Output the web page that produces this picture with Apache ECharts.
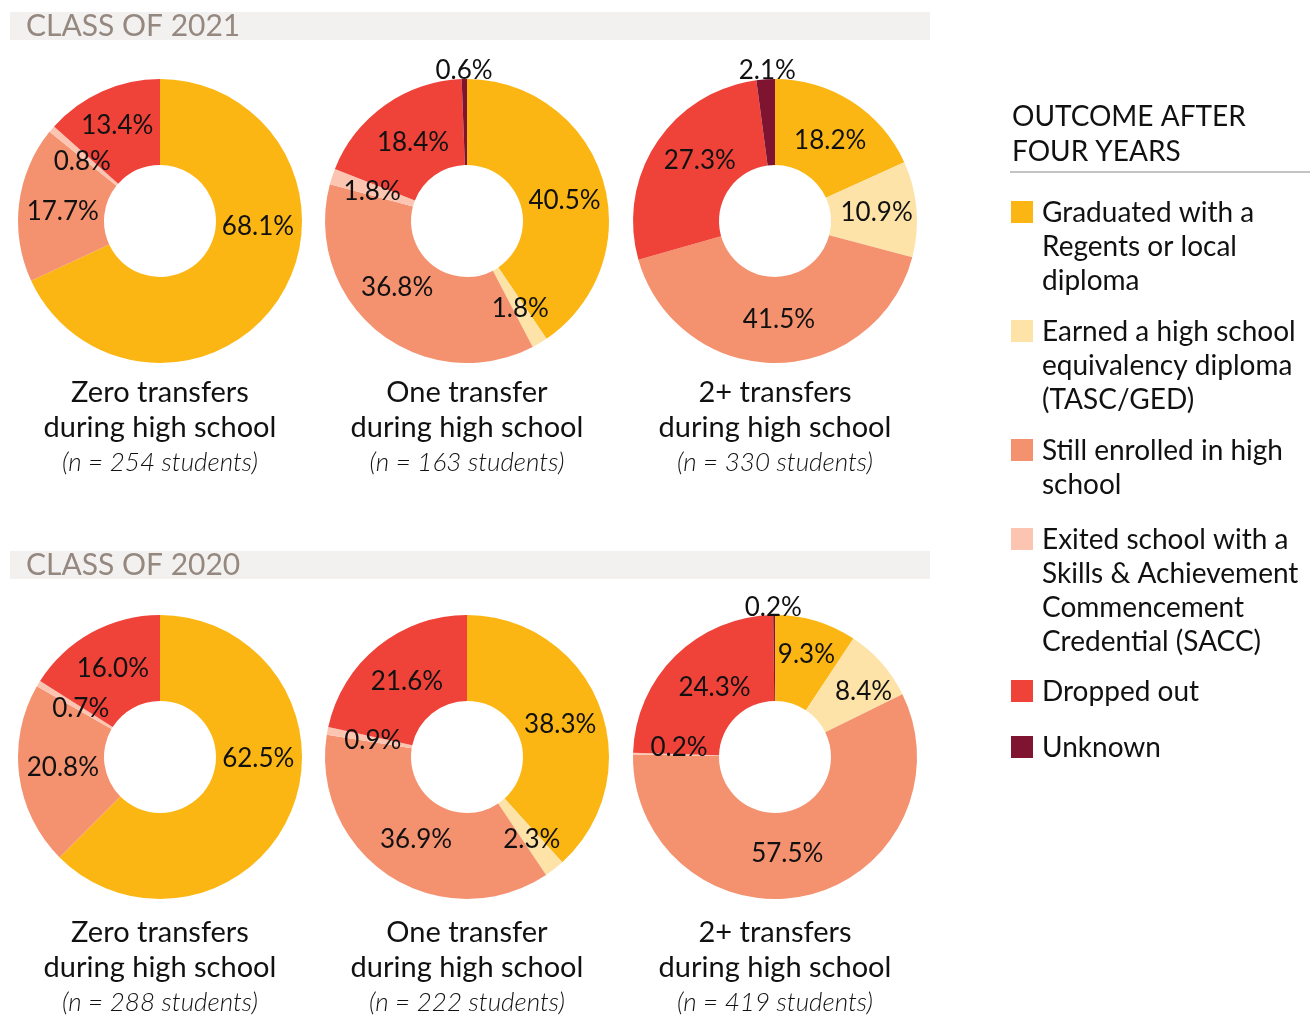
<!DOCTYPE html>
<html>
<head>
<meta charset="utf-8">
<script src="https://cdn.jsdelivr.net/npm/echarts@6/dist/echarts.min.js"></script>
<style>
  html, body { margin: 0; padding: 0; background: #fff; }
  #chart { width: 1315px; height: 1016px; }
</style>
</head>
<body>
<div id="chart"></div>
<script>
// outcome categories (order = clockwise from 12 o'clock)
const outcomes = ['Graduated', 'Equivalency', 'Still enrolled', 'SACC', 'Dropped out', 'Unknown'];
const legendLabels = [
  ['Graduated with a', 'Regents or local', 'diploma'],
  ['Earned a high school', 'equivalency diploma', '(TASC/GED)'],
  ['Still enrolled in high', 'school'],
  ['Exited school with a', 'Skills & Achievement', 'Commencement', 'Credential (SACC)'],
  ['Dropped out'],
  ['Unknown']
];
const colors = ['#FBB614', '#FDE3A8', '#F4916F', '#FBC5B1', '#EF433A', '#7E1430'];

// percent of students, class of 2021
const c2021Zero = [68.1, 0, 17.7, 0.8, 13.4, 0];
const c2021One  = [40.5, 1.8, 36.8, 1.8, 18.4, 0.6];
const c2021Two  = [18.2, 10.9, 41.5, 0, 27.3, 2.1];
// percent of students, class of 2020
const c2020Zero = [62.5, 0, 20.8, 0.7, 16.0, 0];
const c2020One  = [38.3, 2.3, 36.9, 0.9, 21.6, 0];
const c2020Two  = [9.3, 8.4, 57.5, 0.2, 24.3, 0.2];

const groupNames = ['Zero transfers', 'One transfer', '2+ transfers'];
const n2021 = [254, 163, 330];
const n2020 = [288, 222, 419];

const FONT = 'Lato, "Open Sans", sans-serif';
const colX = [160, 467, 775];
const rowY = [221, 757];
const captionGap = [172, 176];

const rows = [
  {title: 'CLASS OF 2021', data: [c2021Zero, c2021One, c2021Two], n: n2021},
  {title: 'CLASS OF 2020', data: [c2020Zero, c2020One, c2020Two], n: n2020}
];

// hand placement of percentage labels (dx, dy per outcome, per pie)
const nudges = [
  [[12, -49], [0, 0], [4, 3], [0, 7], [-1, -2], [0, 0]],
  [[0, 9], [1, 0], [-6, -13], [2, 3], [5, 5], [-1, -48]],
  [[0, 5], [0, 0], [3, -3], [0, 0], [10, -4], [-1, -49]],
  [[4, -37], [0, 0], [4, -3], [8, 4], [2, 1], [0, 0]],
  [[-2, 4], [2, 2], [4, -3], [6, 2], [4, 4], [0, 0]],
  [[2, -5], [12, 2], [-10, -3], [6, -7], [11, 3], [-1, -47]]
];

const series = [];
const graphic = [];

rows.forEach(function (row, r) {
  // section header bar
  const barTop = r === 0 ? 12 : 551;
  graphic.push({
    type: 'rect', shape: {x: 10, y: barTop, width: 920, height: 28},
    style: {fill: '#F3F1EF'}, silent: true
  });
  graphic.push({
    type: 'text', x: 26, y: barTop + 14,
    style: {text: row.title, font: '30px ' + FONT, fill: '#958880', verticalAlign: 'middle', textAlign: 'left'},
    silent: true
  });

  row.data.forEach(function (vals, c) {
    series.push({
      type: 'pie',
      center: [colX[c], rowY[r]],
      radius: [56, 142],
      startAngle: 90,
      clockwise: true,
      avoidLabelOverlap: false,
      emphasis: {disabled: true},
      label: {
        show: true, position: 'inside', color: '#111',
        fontFamily: FONT, fontSize: 26,
        formatter: function (p) { return p.value.toFixed(1) + '%'; }
      },
      labelLine: {show: false},
      data: vals.map(function (v, i) {
        return {name: outcomes[i], value: v, itemStyle: {color: colors[i]}, label: {show: v > 0}};
      })
    });

    const cy = rowY[r] + captionGap[r];
    graphic.push({
      type: 'text', x: colX[c], y: cy,
      style: {text: groupNames[c], font: '29px ' + FONT, fill: '#111', textAlign: 'center', verticalAlign: 'middle'},
      silent: true
    });
    graphic.push({
      type: 'text', x: colX[c], y: cy + 35,
      style: {text: 'during high school', font: '29px ' + FONT, fill: '#111', textAlign: 'center', verticalAlign: 'middle'},
      silent: true
    });
    graphic.push({
      type: 'text', x: colX[c], y: cy + 70,
      style: {text: '(n = ' + row.n[c] + ' students)', font: 'italic 300 26px ' + FONT, fill: '#111', textAlign: 'center', verticalAlign: 'middle'},
      silent: true
    });
  });
});

// legend block
graphic.push({
  type: 'text', x: 1012, y: 134.5,
  style: {text: 'OUTCOME AFTER\nFOUR YEARS', font: '28px ' + FONT, lineHeight: 35, fill: '#111', verticalAlign: 'middle'},
  silent: true
});
graphic.push({
  type: 'line', shape: {x1: 1010, y1: 172, x2: 1310, y2: 172},
  style: {stroke: '#888', lineWidth: 1}, silent: true
});
const legendTop = [201, 320, 439, 528, 680, 736];
legendLabels.forEach(function (lines, i) {
  graphic.push({
    type: 'rect', shape: {x: 1011, y: legendTop[i], width: 22, height: 22},
    style: {fill: colors[i]}, silent: true
  });
  graphic.push({
    type: 'text', x: 1042, y: legendTop[i] - 5,
    style: {text: lines.join('\n'), font: '28px ' + FONT, lineHeight: 34, fill: '#111', verticalAlign: 'top'},
    silent: true
  });
});

function labelNudge(params) {
  const d = nudges[params.seriesIndex][params.dataIndex];
  return {dx: d[0], dy: d[1]};
}
series.forEach(function (s) { s.labelLayout = labelNudge; });

const chart = echarts.init(document.getElementById('chart'), null, {renderer: 'canvas'});
chart.setOption({
  animation: false,
  backgroundColor: '#fff',
  series: series,
  graphic: graphic
});
window.addEventListener('resize', function () { chart.resize(); });
</script>
</body>
</html>
